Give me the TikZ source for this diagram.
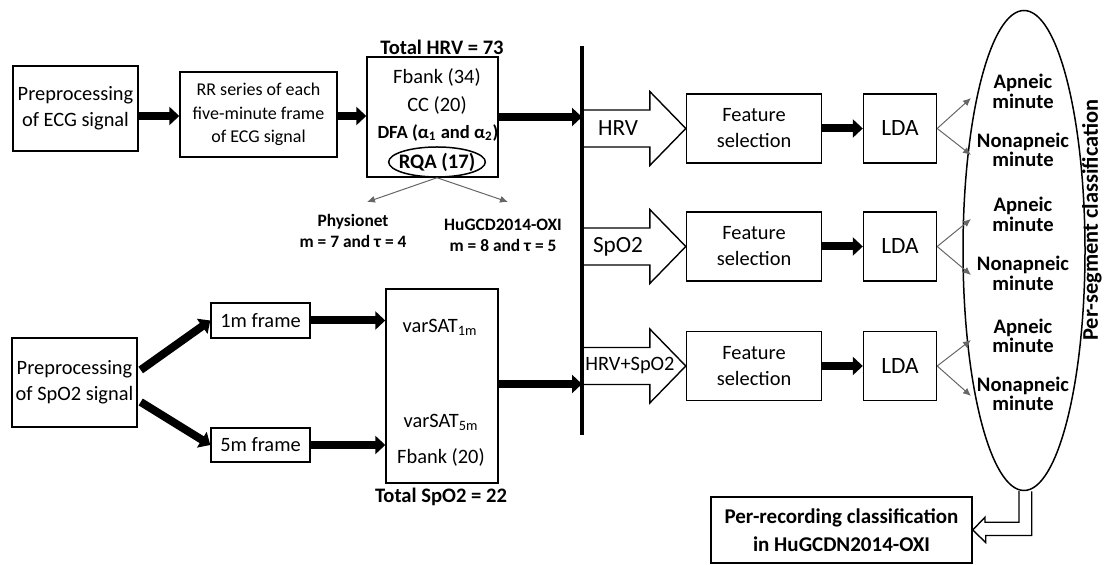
\documentclass[tikz,border=0pt]{standalone}
\usepackage{fontspec}
\setmainfont{Carlito}
\usetikzlibrary{arrows.meta, calc, positioning, shapes.geometric}

\begin{document}
\begin{tikzpicture}[x=0.5pt, y=-0.5pt,
	box/.style = {draw, line width=0.7pt, align=center, inner sep=0pt, font=\fontsize{10.2}{13}\selectfont},
	txt/.style = {align=center, inner sep=0pt, font=\fontsize{10.2}{13}\selectfont},
	btxt/.style = {align=center, inner sep=0pt, font=\bfseries\fontsize{10.3}{13}\selectfont},
	outc/.style = {align=center, inner sep=0pt, font=\bfseries\fontsize{10.3}{8.5}\selectfont},
	fat/.style = {line width=4pt, -{Triangle[length=5pt,width=9pt]}},
	slim/.style = {line width=0.5pt, black!60, -{Latex[length=4pt,width=3.5pt]}},
	hollow/.style = {draw, line width=0.7pt, line join=miter}]
	\useasboundingbox (0,0) rectangle (1104,565);

	% ECG branch
	\node[box, minimum width=62.5pt, minimum height=42.5pt] (ecg) at (75.5,108.5) {Preprocessing\\of ECG signal};
	\node[box, minimum width=78.5pt, minimum height=42.5pt, font=\fontsize{9}{11.7}\selectfont] (rr) at (258.5,114.5) {RR series of each\\five-minute frame\\of ECG signal};
	\node[box, minimum width=65.5pt, minimum height=60pt] (hrv) at (432.5,117) {};
	\node[btxt] (hrvtot) at (442,47) {Total HRV = 73};
	\node[txt] (fb34) at (437,77) {Fbank (34)};
	\node[txt] (cc) at (437,105) {CC (20)};
	\node[btxt, font=\bfseries\fontsize{9.3}{11}\selectfont] (dfa) at (438,133) {DFA (α\textsubscript{1} and α\textsubscript{2})};
	\node[btxt, draw, ellipse, line width=0.75pt, inner xsep=-2pt, inner ysep=0pt, minimum height=15pt] (rqa) at (437,162) {RQA (17)};
	\coordinate (physio) at (367,202);
	\coordinate (hugcd) at (508,202);
	\node[btxt, font=\bfseries\fontsize{8.7}{10.5}\selectfont] (physlab) at (353,230.5) {Physionet\\m = 7 and τ = 4};
	\node[btxt, font=\bfseries\fontsize{8.7}{10.5}\selectfont] (huglab) at (503,235.5) {HuGCD2014-OXI\\m = 8 and τ = 5};

	% SpO2 branch
	\node[box, minimum width=62.5pt, minimum height=44.5pt] (spo2pre) at (74.5,382.5) {Preprocessing\\of SpO2 signal};
	\node[box, minimum width=49.5pt, minimum height=17.5pt] (f1m) at (260.5,320.5) {1m frame};
	\node[box, minimum width=49.5pt, minimum height=17pt] (f5m) at (260.5,445) {5m frame};
	\node[box, minimum width=56pt, minimum height=97pt] (spo2) at (442,386) {};
	\node[txt] (sat1) at (440,327) {varSAT\textsubscript{1m}};
	\node[txt] (sat5) at (441,422) {varSAT\textsubscript{5m}};
	\node[txt] (fb20) at (441,457) {Fbank (20)};
	\node[btxt] (spotot) at (441,497) {Total SpO2 = 22};

	\coordinate (bartop) at (582,46);
	\coordinate (barbot) at (582,435);

	\draw[fat] (ecg.east |- 0,116) -- (rr.west |- 0,116);
	\draw[fat] (rr.east |- 0,116) -- (hrv.west |- 0,116);
	\draw[fat] (hrv.east |- 0,117) -- (bartop |- 0,117);
	\draw[slim] (rqa.south) -- (physio);
	\draw[slim] (rqa.south) -- (hugcd);
	\draw[fat] ($(spo2pre.east)+(3,-12.5)$) -- (f1m.west);
	\draw[fat] ($(spo2pre.east)+(3,19.5)$) -- (f5m.west);
	\draw[fat] (f1m.east) -- (spo2.west |- f1m.east);
	\draw[fat] (f5m.east) -- (spo2.west |- f5m.east);
	\draw[fat] (spo2.east |- 0,384) -- (bartop |- 0,384);

	% classifiers
	\node[draw, ellipse, line width=0.75pt, minimum width=61pt, minimum height=240pt] (seg) at (1024,250.5) {};
	\foreach \rw/\y/\lx/\fs/\lab/\apt/\not/\apl/\nol in
		{1/128.5/618/11.6/HRV/98/155/91.5/150,
		 2/246.5/618/11.6/SpO2/219/275/214.5/273.5,
		 3/366/630/10.2/HRV+SpO2/340/396/336/394} {
		\node[box, minimum width=67.5pt, minimum height=34.5pt] (fs\rw) at (754,\y) {Feature\\selection};
		\node[box, minimum width=36.5pt, minimum height=34.5pt, font=\fontsize{11.7}{14}\selectfont] (lda\rw) at (900,\y) {LDA};
		\draw[hollow] ($(fs\rw.west)+(-104,-18.5)$) -- ++(68,0) -- ++(0,-18.5) -- (fs\rw.west)
			-- ++(-36,37) -- ++(0,-18.5) -- ++(-68,0);
		\node[txt, font=\fontsize{\fs}{14}\selectfont] (in\rw) at (\lx,\y) {\lab};
		\draw[fat] (fs\rw) -- (lda\rw);
		\coordinate (ap\rw) at (971,\apt);
		\coordinate (no\rw) at (971,\not);
		\draw[slim] (lda\rw.east) -- (ap\rw);
		\draw[slim] (lda\rw.east) -- (no\rw);
		\node[outc] (apn\rw) at (1023,\apl) {Apneic\\minute};
		\node[outc] (non\rw) at (1023,\nol) {Nonapneic\\minute};
	}
	\node[rotate=90, inner sep=0pt, font=\bfseries\fontsize{11.2}{14}\selectfont] (segtxt) at (1092,220) {Per-segment classification};

	\node[box, minimum width=130.5pt, minimum height=33pt, font=\bfseries\fontsize{10.5}{14}\selectfont] (perrec) at (841.5,530) {Per-recording classification\\in HuGCDN2014-OXI};
	\draw[hollow] ($(seg.south)+(-5,0)$) -- ++(0,31) -- ++(-34,0) -- ++(0,-5) -- (perrec.east)
		-- ++(13,12.5) -- ++(0,-7) -- ++(46,0) -- ++(0,-44);

	\draw[line width=2pt] (bartop) -- (barbot);
\end{tikzpicture}
\end{document}
